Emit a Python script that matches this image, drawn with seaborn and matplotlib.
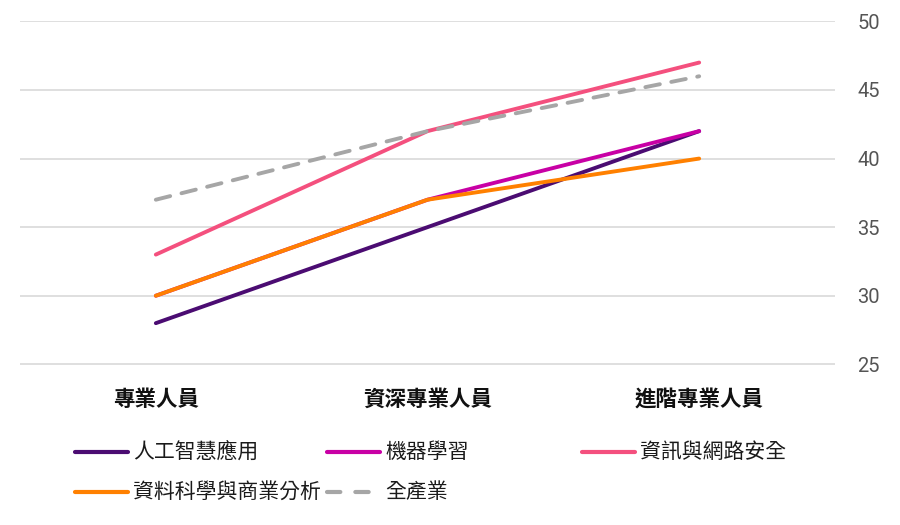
import matplotlib
matplotlib.use("Agg")
import matplotlib.pyplot as plt
from matplotlib.lines import Line2D
import seaborn as sns
import pandas as pd

categories = ["專業人員", "資深專業人員", "進階專業人員"]
series_names = ["人工智慧應用", "機器學習", "資訊與網路安全", "資料科學與商業分析", "全產業"]
ai_vals = [28, 35, 42]
ml_vals = [30, 37, 42]
sec_vals = [33, 42, 47]
ds_vals = [30, 37, 40]
all_vals = [37, 42, 46]
y_ticks = [25, 30, 35, 40, 45, 50]

colors = ["#4B0C72", "#C800A5", "#F4507E", "#FF8000", "#A6A6A6"]
values = [ai_vals, ml_vals, sec_vals, ds_vals, all_vals]

sns.set_theme(style="white")
plt.rcParams["font.family"] = ["Noto Sans CJK TC", "DejaVu Sans"]

fig = plt.figure(figsize=(9, 5.25), dpi=100)
ax = fig.add_axes([20 / 900, (525 - 365) / 525, (835 - 20) / 900, 344 / 525])

for name, vals, col in zip(series_names, values, colors):
    df = pd.DataFrame({"x": list(range(len(categories))), "y": vals})
    dashed = name == "全產業"
    sns.lineplot(data=df, x="x", y="y", ax=ax, color=col, linewidth=2.8,
                 linestyle=(0, (3.8, 3.0)) if dashed else "-", legend=False)
    line = ax.lines[-1]
    line.set_solid_capstyle("round")
    line.set_dash_capstyle("round")
    line.set_clip_on(False)

ax.set_xlim(-0.5, 2.5)
ax.set_ylim(24.95, 50.03)
ax.set_yticks(y_ticks)
ax.yaxis.tick_right()
ax.tick_params(axis="y", length=0, pad=16, labelsize=14.5, labelcolor="#555555")
for lab in ax.get_yticklabels():
    lab.set_family(["Roboto", "DejaVu Sans"])
ax.set_xticks(range(len(categories)))
ax.set_xticklabels(categories, fontsize=15.5, fontweight="bold", color="#111111")
ax.tick_params(axis="x", length=0, pad=17)
ax.grid(axis="y", color="#d6d6d6", linewidth=1.1)
ax.grid(axis="x", visible=False)
for s in ax.spines.values():
    s.set_visible(False)
ax.set_xlabel("")
ax.set_ylabel("")

# manual legend (flow layout as in reference)
legend_pos = [(75, 452), (327, 452), (582, 452), (75, 492), (327, 492)]
for (px, py), name, col in zip(legend_pos, series_names, colors):
    fx0 = px / 900
    fx1 = (px + 53) / 900
    fy = 1 - py / 525
    dashed = name == "全產業"
    ln = Line2D([fx0, fx1], [fy, fy], transform=fig.transFigure, color=col,
                linewidth=3, linestyle=(0, (3.2, 3.6)) if dashed else "-",
                solid_capstyle="round", dash_capstyle="round")
    fig.add_artist(ln)
    fig.text((px + 58) / 900, fy, name, fontsize=15, color="#1a1a1a",
             va="center", ha="left")

fig.savefig("out.png", dpi=100)
